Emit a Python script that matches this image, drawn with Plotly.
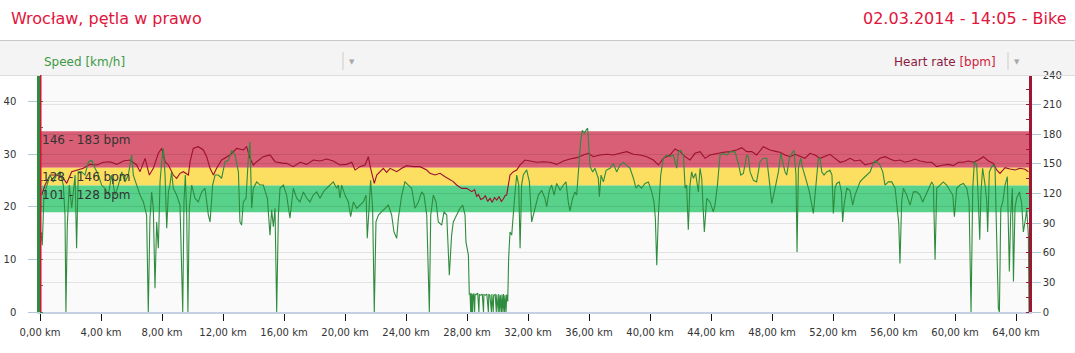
import plotly.graph_objects as go

# ---------------- data ----------------
speed_km = [0.07, 0.15, 0.26, 0.44, 0.66, 0.87, 1.09, 1.31, 1.53, 1.64, 1.70, 1.79, 1.92, 2.08, 2.19, 2.30, 2.40, 2.51,
            2.73, 2.95, 3.17, 3.39, 3.61, 3.83, 4.04, 4.26, 4.48, 4.70, 4.92, 5.14, 5.36, 5.57, 5.79, 6.01, 6.12, 6.34,
            6.56, 6.78, 6.99, 7.10, 7.21, 7.32, 7.43, 7.54, 7.65, 7.76, 7.87, 7.98, 8.09, 8.20, 8.31, 8.42, 8.52, 8.63,
            8.74, 8.96, 9.18, 9.36, 9.44, 9.53, 9.62, 9.70, 9.79, 9.95, 10.16, 10.38, 10.60, 10.82, 11.04, 11.15, 11.32,
            11.48, 11.69, 11.91, 12.13, 12.35, 12.57, 12.79, 13.01, 13.11, 13.22, 13.33, 13.51, 13.66, 13.77, 13.88,
            13.99, 14.21, 14.43, 14.64, 14.91, 15.08, 15.19, 15.30, 15.41, 15.52, 15.63, 15.74,
            15.96, 16.17, 16.39, 16.61, 16.83, 17.05, 17.27, 17.49, 17.70, 17.92, 18.14, 18.36, 18.58, 18.80, 19.02,
            19.23, 19.45, 19.56, 19.67, 19.78, 20.00, 20.22, 20.37, 20.55, 20.77, 20.98, 21.20, 21.38, 21.46, 21.60,
            21.68, 21.81, 21.92, 22.03, 22.19, 22.40, 22.62, 22.84, 23.06, 23.21, 23.39, 23.50, 23.72, 23.93, 24.15,
            24.37, 24.59, 24.81, 25.03, 25.18, 25.36, 25.53, 25.62, 25.79, 25.97, 26.12, 26.34, 26.49, 26.67, 26.84,
            26.99, 27.10, 27.32, 27.54, 27.72, 27.87, 27.93, 28.09, 28.15,
            28.20, 28.24, 28.27, 28.30, 28.33, 28.37, 28.40, 28.45, 28.50, 28.53, 28.60, 28.70, 28.78, 28.81, 28.90,
            29.00, 29.08, 29.11, 29.20, 29.30, 29.40, 29.43, 29.50, 29.60, 29.63, 29.72, 29.75, 29.85, 29.92, 29.95,
            30.05, 30.08, 30.15, 30.18, 30.26, 30.29, 30.36, 30.39, 30.46, 30.49, 30.56, 30.60, 30.67,
            30.73, 30.82, 30.93, 31.04, 31.15, 31.26, 31.39, 31.48, 31.58, 31.69, 31.91, 32.09, 32.24,
            32.46, 32.68, 32.90, 33.11, 33.22, 33.40, 33.55, 33.71, 33.88, 34.10, 34.32, 34.49, 34.64, 34.75, 34.93,
            35.08, 35.19, 35.34, 35.45, 35.56, 35.69, 35.80, 35.91, 35.98, 36.07, 36.24, 36.39, 36.50, 36.61, 36.68,
            36.79, 36.94, 37.12, 37.38, 37.60, 37.81, 38.03, 38.25, 38.47, 38.69, 38.91, 39.08, 39.23, 39.45, 39.67,
            39.89, 40.11, 40.26, 40.35, 40.44, 40.55, 40.70, 40.87, 41.09, 41.31, 41.53, 41.75, 41.86, 42.01, 42.19,
            42.30, 42.40, 42.51, 42.62, 42.73, 42.84, 42.99, 43.17, 43.28, 43.39, 43.56, 43.72, 43.93, 44.15, 44.26,
            44.42, 44.59, 44.81, 45.03, 45.25, 45.57, 45.79, 45.95, 46.12, 46.34, 46.45, 46.56, 46.78, 46.99, 47.21,
            47.43, 47.65, 47.83, 47.98, 48.20, 48.42, 48.57,
            48.70, 48.85, 48.96, 49.14, 49.29, 49.44, 49.57, 49.64, 49.73, 49.88, 50.01, 50.16, 50.27, 50.45, 50.60,
            50.71, 50.82, 50.93, 51.04, 51.15, 51.26, 51.41, 51.58, 51.80, 51.93, 52.02, 52.13, 52.24, 52.41, 52.55,
            52.63, 52.72, 52.90, 53.11, 53.29, 53.44, 53.60, 53.77, 53.99, 54.21, 54.43, 54.60, 54.75, 54.91, 55.08,
            55.26, 55.41, 55.63, 55.85, 56.07, 56.22, 56.31, 56.39, 56.50, 56.61, 56.83, 57.05, 57.27, 57.49, 57.70,
            57.88, 58.03, 58.25, 58.47, 58.58, 58.69, 58.80, 59.02, 59.23, 59.45, 59.67, 59.85, 59.96, 60.11, 60.33,
            60.55, 60.77, 60.92, 61.05, 61.16, 61.27, 61.42, 61.53, 61.62, 61.70, 61.81, 61.97, 62.08, 62.14, 62.25,
            62.36, 62.47, 62.62, 62.73, 62.84, 62.91, 63.00, 63.13, 63.28, 63.43, 63.56, 63.65, 63.76, 63.83, 63.93,
            64.04, 64.22, 64.37, 64.48, 64.59, 64.70, 64.81, 64.85]

speed_kmh = [15.2, 12.7, 22.2, 24.1, 26.0, 24.7, 26.0, 26.6, 24.1, 18.4, 0, 16.5, 24.1, 19.7, 22.8, 26.0, 12.1, 26.6,
             26.6, 26.0, 28.5, 28.8, 27.3, 26.0, 24.1, 23.5, 22.2, 26.0, 22.2, 24.1, 26.6, 24.7, 26.0, 29.8, 26.0, 24.1,
             22.2, 20.9, 18.4, 0, 17.8, 22.8, 19.7, 4.5, 17.1, 12.1, 24.7, 28.5, 31.1, 26.0, 15.9, 22.8, 24.1, 26.6,
             23.5, 22.2, 20.3, 0, 20.9, 26.0, 18.4, 0, 19.7, 24.1, 21.6, 20.9, 22.8, 23.5, 18.4, 17.1, 24.1,
             26.0, 26.0, 25.4, 28.5, 28.8, 30.7, 29.8, 26.6, 17.1, 16.5, 20.9, 21.6, 29.2, 32.3, 19.7,
             23.5, 24.7, 24.1, 24.1, 21.6, 14.6, 19.4, 16.2, 19.7, 0, 18.4, 23.5,
             24.1, 22.2, 17.8, 23.5, 21.6, 20.9, 22.8, 21.6, 20.9, 22.2, 22.8, 21.6, 22.8, 23.5, 24.1,
             24.7, 23.5, 24.1, 21.6, 24.1, 22.2, 20.9, 18.1, 20.9, 19.7, 20.3, 20.9, 22.2, 14.0, 20.9,
             25.0, 19.7, 0, 17.1, 18.4, 19.0, 19.7, 20.3, 18.4, 15.2, 14.0, 17.8, 22.2, 24.7, 24.1,
             23.5, 19.7, 20.9, 22.8, 22.2, 18.4, 0, 18.4, 22.2, 20.9, 17.1, 16.5, 19.0, 18.4, 7.0,
             14.6, 17.1, 18.4, 19.7, 20.3, 18.4, 13.3, 10.8, 3.4,
             3.4, 0, 3.6, 0, 3.3, 0, 3.5, 3.2, 0, 3.4, 3.3, 3.6, 0, 3.3, 3.2,
             3.4, 0, 3.3, 3.2, 3.4, 0, 3.3, 3.2, 0, 3.4, 0, 3.2, 3.3, 0, 3.3,
             0, 3.4, 0, 3.2, 0, 3.3, 0, 3.4, 0, 3.2, 0, 3.3, 2.0,
             10.2, 15.2, 14.6, 19.7, 22.8, 26.0, 24.1, 12.1, 24.1, 26.0, 27.0, 24.7, 17.1,
             19.7, 22.2, 23.1, 21.6, 20.0, 23.1, 24.1, 22.2, 24.4, 23.1, 24.1, 24.7, 20.9, 19.2, 21.6,
             22.8, 22.2, 27.9, 32.3, 34.5, 33.9, 34.5, 34.9, 31.7, 27.6, 26.6, 27.3, 26.3, 25.4, 21.9,
             26.0, 24.7, 26.9, 27.3, 28.2, 26.6, 27.9, 28.4, 27.9, 27.3, 25.4, 23.5, 24.1, 23.5, 24.4,
             24.7, 22.8, 20.9, 17.8, 8.9, 18.4, 26.0, 29.2, 29.8, 29.5, 29.8, 27.3, 30.4, 30.7, 29.8,
             23.5, 24.1, 15.6, 24.1, 26.6, 25.4, 26.3, 22.8, 27.3, 25.4, 15.2, 21.6, 20.9, 19.0, 20.3,
             24.1, 29.8, 30.1, 29.8, 30.4, 30.4, 28.2, 26.0, 26.3, 29.8, 29.5, 26.6, 25.0, 24.7, 28.5,
             29.2, 29.2, 24.7, 20.6, 23.5, 26.6, 30.1,
             28.5, 26.6, 26.0, 29.2, 30.1, 30.7, 26.0, 11.4, 27.3, 29.2, 27.3, 26.0, 24.7, 22.8, 20.3,
             18.7, 22.2, 26.0, 29.2, 29.2, 26.6, 26.0, 26.6, 26.9, 26.0, 18.7, 23.5, 24.4, 24.7, 22.8,
             17.1, 20.3, 23.5, 23.1, 20.3, 22.2, 23.5, 24.7, 25.4, 26.0, 26.6, 27.9, 28.7, 28.4, 27.9,
             26.6, 24.1, 24.7, 24.7, 23.5, 19.7, 16.8, 9.2, 20.9, 23.5, 22.2, 20.3, 22.8, 22.8, 22.2,
             20.9, 21.9, 23.5, 24.7, 24.1, 9.9, 23.5, 24.1, 24.7, 24.1, 23.1, 22.2, 18.1, 23.5, 24.1,
             24.4, 23.5, 20.9, 0, 23.5, 28.5, 27.9, 20.9, 13.7, 22.8, 27.3, 24.1, 20.9, 15.2, 26.6,
             27.3, 27.9, 27.6, 13.3, 0.7, 0, 19.7, 20.9, 24.1, 25.7, 7.7, 18.4, 23.5, 5.8, 19.7,
             21.6, 22.8, 20.6, 15.2, 17.1, 19.4, 14.6, 0]

hr_km = [0.11, 0.33, 0.66, 1.09, 1.53, 1.75, 2.08, 2.40, 2.84, 3.28, 3.72, 4.15, 4.59, 5.03, 5.46, 5.90, 6.34, 6.56,
         6.89, 7.17, 7.43, 7.76, 7.98, 8.20, 8.42, 8.74, 8.96, 9.18, 9.40, 9.73, 9.84, 10.05, 10.38, 10.71, 10.93,
         11.15, 11.37, 11.58, 11.91, 12.46, 12.90, 13.33, 13.55, 13.77, 13.99, 14.21, 14.64, 15.08, 15.41, 15.96,
         16.17, 16.61, 17.05, 17.49, 17.92, 18.36, 18.80, 19.23, 19.67, 20.11, 20.44, 20.66, 20.98, 21.31, 21.53,
         21.68, 21.92, 22.08, 22.30, 22.51, 22.73, 22.95, 23.17, 23.39, 23.72, 24.04, 24.48, 24.92, 25.36, 25.57,
         25.90, 26.23, 26.56, 26.89, 27.10, 27.32, 27.65, 27.98, 28.31, 28.50, 28.63, 28.75, 28.90, 29.07, 29.20,
         29.35, 29.51, 29.65, 29.80, 29.95, 30.10, 30.25, 30.38, 30.50, 30.60, 30.82, 31.04, 31.26, 31.48, 31.80,
         32.13, 32.57, 33.01, 33.44, 33.88, 34.32, 34.75, 35.19, 35.63, 35.96, 36.28, 36.72, 37.16, 37.60, 38.03,
         38.47, 38.91, 39.34, 39.78, 40.22, 40.55, 40.87, 41.31, 41.64, 41.97, 42.30, 42.62, 42.95, 43.28, 43.61,
         43.93, 44.37, 44.81, 45.25, 45.68, 46.01, 46.34, 46.67, 46.99, 47.43, 47.87, 48.31, 48.52, 48.85, 49.18,
         49.51, 49.84, 50.16, 50.49, 50.82, 51.15, 51.48, 51.80, 52.13, 52.46, 52.79, 53.11, 53.44, 53.77, 54.10,
         54.43, 54.75, 55.08, 55.41, 55.74, 56.07, 56.39, 56.72, 57.05, 57.38, 57.70, 58.14, 58.47, 58.80, 59.23,
         59.56, 59.89, 60.22, 60.55, 60.87, 61.20, 61.53, 61.86, 62.19, 62.51, 62.73, 62.95, 63.28, 63.61, 63.93,
         64.26, 64.59, 64.81]

hr_bpm = [118.5, 128.6, 138.7, 138.7, 135.4, 130.3, 142.1, 143.8, 145.5, 149.5, 148.9, 151.6, 152.2, 149.5, 152.9,
          153.9, 148.9, 142.1, 155.6, 138.7, 145.5, 160.7, 165.7, 152.2, 148.9, 138.7, 135.4, 140.4, 142.1, 138.7,
          152.2, 165.7, 167.4, 164.1, 157.3, 145.5, 138.7, 145.5, 153.9, 159.0, 165.7, 164.1, 167.4, 155.6, 148.9,
          152.2, 157.3, 159.0, 152.2, 150.5,
          150.5, 147.2, 151.6, 149.5, 153.9, 152.9, 154.9, 152.9, 148.9, 149.5, 151.6, 143.8, 147.2, 148.9, 157.3,
          145.5, 130.3, 138.7, 142.1, 145.5, 141.4, 145.5, 143.8, 142.1, 145.5, 148.2, 147.2, 147.2, 143.8, 140.4,
          138.7, 140.4, 137.0, 133.7, 132.0, 128.6, 125.2, 125.2, 121.9, 124.0, 116.8, 119.0, 114.0, 115.1, 118.0,
          112.0, 115.1, 111.0, 116.0, 113.4, 117.0, 112.0, 114.4, 118.0, 118.5, 138.7, 142.1, 143.8, 148.9, 153.9,
          152.9, 151.6, 152.2, 151.6, 149.5, 152.9, 154.9, 156.3, 159.0, 160.7, 157.3, 159.0, 159.7, 159.0, 160.7,
          162.4, 159.7, 159.0, 157.3, 153.9, 148.9, 155.6, 159.0, 165.1, 162.4, 157.3, 153.9, 160.7, 162.4, 155.6,
          159.0, 160.7, 161.7, 162.4, 164.1, 166.4, 162.4, 162.4, 159.0, 167.4, 164.1, 162.4, 161.7, 159.0, 157.3,
          159.7, 157.3, 155.6, 160.7, 159.0, 155.6, 157.3, 159.7, 155.6, 151.6, 152.9, 155.6, 152.9, 153.9, 148.9,
          150.5, 151.6, 155.6, 157.3, 154.9, 152.9, 153.9, 151.6, 152.9, 154.9, 152.9, 151.6, 151.6, 147.2, 148.9,
          149.5, 148.2, 151.6, 151.6, 152.9, 151.6, 153.9, 157.3, 152.9, 150.5, 143.8, 140.4, 146.2, 144.8, 143.8,
          145.5, 144.5, 142.1]

zone_labels = ["146 - 183 bpm", "128 - 146 bpm", "101 - 128 bpm"]
zone_low = [146, 128, 101]
zone_high = [183, 146, 128]
zone_colors = ["#d85f75", "#fcde61", "#58d28a"]

x_tickvals = [0, 4, 8, 12, 16, 20, 24, 28, 32, 36, 40, 44, 48, 52, 56, 60, 64]
x_ticktext = ["0,00 km", "4,00 km", "8,00 km", "12,00 km", "16,00 km", "20,00 km", "24,00 km", "28,00 km",
              "32,00 km", "36,00 km", "40,00 km", "44,00 km", "48,00 km", "52,00 km", "56,00 km", "60,00 km",
              "64,00 km"]

title_left = "Wrocław, pętla w prawo"
title_right = "02.03.2014 - 14:05 - Bike"

# ---------------- figure ----------------
W, H = 1075, 353
L, R, T, B = 40, 46, 75, 41
PW, PH = W - L - R, H - T - B


def px(xp):
    return (xp - L) / PW


def py(yp):
    return (H - B - yp) / PH


FONT = "DejaVu Sans"
GREEN = "#2f8c3e"
DRED = "#9c1030"

fig = go.Figure()

# HR (right axis, yaxis) and speed (left axis, yaxis2 overlaying -> drawn on top)
fig.add_trace(go.Scatter(x=hr_km, y=hr_bpm, yaxis="y", mode="lines",
                         line=dict(color=DRED, width=1.1), hoverinfo="skip", showlegend=False))
fig.add_trace(go.Scatter(x=speed_km, y=speed_kmh, yaxis="y2", mode="lines",
                         line=dict(color=GREEN, width=1.1), hoverinfo="skip", showlegend=False))

shapes = []
annotations = []

# heart rate zones
for lab, lo, hi, col in zip(zone_labels, zone_low, zone_high, zone_colors):
    shapes.append(dict(type="rect", xref="x", yref="y", x0=0, x1=max(speed_km), y0=lo, y1=hi,
                       fillcolor=col, line=dict(width=0), layer="below"))
    annotations.append(dict(xref="x", yref="y", x=0, y=hi, text=lab, showarrow=False,
                            xanchor="left", yanchor="top", xshift=0, yshift=0,
                            font=dict(family=FONT, size=12, color="#333333")))

# header bar
shapes.append(dict(type="rect", xref="paper", yref="paper", x0=px(0), x1=px(W), y0=py(75), y1=py(41),
                   fillcolor="#f4f4f4", line=dict(width=0), layer="below"))
shapes.append(dict(type="line", xref="paper", yref="paper", x0=px(0), x1=px(W), y0=py(40.5), y1=py(40.5),
                   line=dict(color="#c8c8c8", width=1)))
shapes.append(dict(type="line", xref="paper", yref="paper", x0=px(0), x1=px(W), y0=py(75.5), y1=py(75.5),
                   line=dict(color="#dcdcdc", width=1)))
for sx in (343, 1008):
    shapes.append(dict(type="line", xref="paper", yref="paper", x0=px(sx), x1=px(sx), y0=py(70), y1=py(52),
                       line=dict(color="#cccccc", width=1)))
    annotations.append(dict(xref="paper", yref="paper", x=px(sx + 9), y=py(62), text="▼", showarrow=False,
                            xanchor="center", yanchor="middle", font=dict(family=FONT, size=7, color="#a8a8a8")))

# start marker
shapes.append(dict(type="line", xref="x", yref="paper", x0=0.05, x1=0.05, y0=0, y1=1,
                   line=dict(color="#d8103a", width=1.5)))

annotations += [
    dict(xref="paper", yref="paper", x=px(9), y=py(18), text=title_left, showarrow=False,
         xanchor="left", yanchor="middle", font=dict(family=FONT, size=16, color="#e0143c")),
    dict(xref="paper", yref="paper", x=px(1069), y=py(18), text=title_right, showarrow=False,
         xanchor="right", yanchor="middle", font=dict(family=FONT, size=16, color="#e0143c")),
    dict(xref="paper", yref="paper", x=px(42), y=py(62), text="Speed [km/h]", showarrow=False,
         xanchor="left", yanchor="middle", font=dict(family=FONT, size=12, color="#3c9a45")),
    dict(xref="paper", yref="paper", x=px(998), y=py(62),
         text="Heart rate <span style='color:#d0203f'>[bpm]</span>", showarrow=False,
         xanchor="right", yanchor="middle", font=dict(family=FONT, size=12, color="#8e1a40")),
]

fig.update_layout(
    width=W, height=H,
    margin=dict(l=L, r=R, t=T, b=B, pad=0, autoexpand=False),
    paper_bgcolor="#ffffff",
    plot_bgcolor="#fafafa",
    showlegend=False,
    shapes=shapes,
    annotations=annotations,
    xaxis=dict(range=[0, max(speed_km)], tickvals=x_tickvals, ticktext=x_ticktext, automargin=False,
               showgrid=False, zeroline=False, showline=True, linecolor="#c3d1e2", linewidth=2,
               ticks="outside", ticklen=7, tickwidth=1.3, tickcolor="#111111", ticklabelstandoff=3,
               tickfont=dict(family=FONT, size=10, color="#333333"), fixedrange=True),
    yaxis=dict(range=[0, 240], side="right", dtick=30, tick0=0, automargin=False,
               showgrid=True, gridcolor="rgba(0,0,0,0.09)", gridwidth=1, zeroline=False,
               showline=True, linecolor="#a01535", linewidth=2.5,
               ticks="outside", ticklen=9, tickcolor="#b4c6dc", tickwidth=1.2,
               minor=dict(dtick=15, tick0=0, ticks="inside", ticklen=3, tickcolor="#a01535", showgrid=False),
               tickfont=dict(family=FONT, size=10, color="#333333"), fixedrange=True),
    yaxis2=dict(range=[0, 45], side="left", overlaying="y", dtick=10, tick0=0, automargin=False,
                showgrid=True, gridcolor="rgba(0,0,0,0.09)", gridwidth=1, zeroline=False,
                showline=True, linecolor="#2f8c3e", linewidth=2.5,
                ticks="outside", ticklen=9, tickcolor="#b4c6dc", tickwidth=1.2, ticklabelstandoff=10,
                minor=dict(dtick=5, tick0=0, ticks="inside", ticklen=3, tickcolor="#2f8c3e", showgrid=False),
                tickfont=dict(family=FONT, size=10, color="#333333"), fixedrange=True),
)

fig.write_html("out.html")
